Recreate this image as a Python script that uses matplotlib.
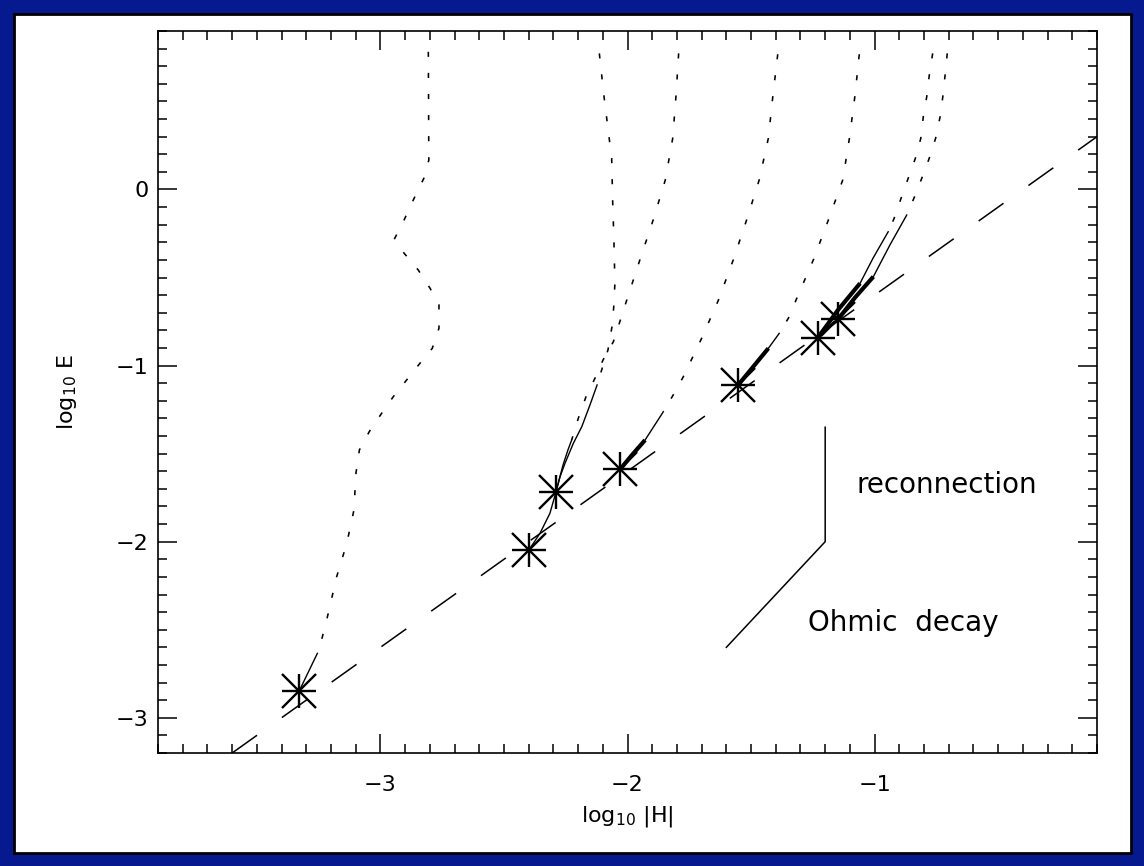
import matplotlib
matplotlib.use("Agg")
import matplotlib.pyplot as plt
from matplotlib.patches import Rectangle
from matplotlib.ticker import MultipleLocator

# star (end) points of each run
star_x = [-3.328, -2.399, -2.289, -2.030, -1.552, -1.230, -1.147]
star_y = [-2.846, -2.047, -1.716, -1.589, -1.110, -0.842, -0.735]

# early part of each run (dotted)
dot_x = [
    [-2.806, -2.804, -2.824, -2.867, -2.904, -2.944, -2.904, -2.847, -2.799, -2.763, -2.763, -2.790,
     -2.840, -2.894, -2.948, -2.995, -3.045, -3.085, -3.099, -3.107, -3.136, -3.177, -3.211, -3.238, -3.255],
    [-2.114, -2.095, -2.064, -2.060, -2.055, -2.051, -2.055, -2.063, -2.079, -2.107, -2.123],
    [-1.793, -1.804, -1.817, -1.847, -1.896, -1.950, -2.003, -2.057, -2.099, -2.131, -2.168, -2.199, -2.226],
    [-1.392, -1.412, -1.430, -1.467, -1.518, -1.572, -1.632, -1.700, -1.774, -1.815, -1.855],
    [-1.062, -1.080, -1.102, -1.129, -1.187, -1.248, -1.315, -1.349, -1.386],
    [-0.765, -0.779, -0.789, -0.803, -0.813, -0.835, -0.864, -0.893, -0.921, -0.945],
    [-0.706, -0.715, -0.724, -0.735, -0.753, -0.779, -0.809, -0.841, -0.870],
]
dot_y = [
    [0.782, 0.167, 0.064, -0.060, -0.173, -0.283, -0.362, -0.457, -0.561, -0.656, -0.788, -0.902,
     -0.987, -1.082, -1.177, -1.271, -1.375, -1.479, -1.612, -1.820, -2.009, -2.199, -2.407, -2.558, -2.634],
    [0.773, 0.527, 0.177, -0.069, -0.287, -0.531, -0.656, -0.781, -0.911, -1.036, -1.110],
    [0.773, 0.527, 0.291, 0.054, -0.173, -0.400, -0.628, -0.864, -0.968, -1.070, -1.177, -1.299, -1.423],
    [0.768, 0.527, 0.291, 0.054, -0.173, -0.400, -0.628, -0.845, -1.063, -1.167, -1.262],
    [0.768, 0.527, 0.291, 0.054, -0.173, -0.400, -0.618, -0.731, -0.817],
    [0.773, 0.646, 0.527, 0.413, 0.291, 0.177, 0.064, -0.050, -0.164, -0.240],
    [0.773, 0.646, 0.527, 0.413, 0.291, 0.177, 0.064, -0.050, -0.145],
]

# later part (thin solid)
thin_x = [
    [-3.255, -3.328],
    [-2.123, -2.152, -2.185, -2.219, -2.253, -2.273, -2.289, -2.314, -2.354, -2.399],
    [-2.226, -2.241, -2.261, -2.277, -2.289],
    [-1.855, -1.929],
    [-1.386, -1.430],
    [-0.945, -1.006, -1.059],
    [-0.870, -0.938, -1.005],
]
thin_y = [
    [-2.634, -2.846],
    [-1.110, -1.224, -1.347, -1.441, -1.555, -1.631, -1.716, -1.839, -1.952, -2.047],
    [-1.423, -1.479, -1.565, -1.650, -1.716],
    [-1.262, -1.423],
    [-0.817, -0.902],
    [-0.240, -0.389, -0.533],
    [-0.145, -0.315, -0.495],
]

# last part (thick solid)
thick_x = [[-1.929, -1.982, -2.030], [-1.430, -1.552], [-1.059, -1.148, -1.230], [-1.005, -1.080, -1.147]]
thick_y = [[-1.423, -1.508, -1.589], [-0.902, -1.110], [-0.533, -0.684, -0.842], [-0.495, -0.615, -0.735]]

# long dashed reference line
ref_x = [-3.6, -0.1]
ref_y = [-3.2, 0.3]

# slope guide
guide_x = [-1.6, -1.2, -1.2]
guide_y = [-2.6, -2.0, -1.35]

plt.rcParams['mathtext.fontset'] = 'dejavusans'

fig = plt.figure(figsize=(11.44, 8.66), dpi=100, facecolor='#06198f')
fig.patches.append(Rectangle((13.5 / 1144, 13.5 / 866), 1 - 27 / 1144, 1 - 27 / 866,
                             transform=fig.transFigure, facecolor='white',
                             edgecolor='black', lw=2.0, zorder=-1))
ax = fig.add_axes([158 / 1144, 113 / 866, 939 / 1144, 722 / 866])
ax.set_facecolor('none')

for xs, ys in zip(dot_x, dot_y):
    ax.plot(xs, ys, color='black', lw=1.15, dashes=(3.2, 10.0))
for xs, ys in zip(thin_x, thin_y):
    ax.plot(xs, ys, color='black', lw=1.0)
for xs, ys in zip(thick_x, thick_y):
    ax.plot(xs, ys, color='black', lw=3.0, solid_capstyle='butt')

ax.plot(ref_x, ref_y, color='black', lw=1.1, dashes=(20, 20))
ax.plot(guide_x, guide_y, color='black', lw=1.1)

ax.plot(star_x, star_y, ls='none', marker='+', ms=24.5, mew=1.7, color='black')
ax.plot(star_x, star_y, ls='none', marker='x', ms=24.5, mew=1.7, color='black')

ax.text(-1.072, -1.725, 'reconnection', fontsize=20, va='baseline')
ax.text(-1.268, -2.505, 'Ohmic  decay', fontsize=20, va='baseline')

ax.set_xlim(-3.9, -0.1)
ax.set_ylim(-3.2, 0.9)
ax.xaxis.set_major_locator(MultipleLocator(1))
ax.xaxis.set_minor_locator(MultipleLocator(0.1))
ax.yaxis.set_major_locator(MultipleLocator(1))
ax.yaxis.set_minor_locator(MultipleLocator(0.1))
ax.tick_params(which='both', direction='in', top=True, right=True, width=1.1, labelsize=16)
ax.tick_params(which='major', length=13.5)
ax.tick_params(which='minor', length=6.5)
ax.tick_params(axis='x', pad=16)
ax.tick_params(axis='y', pad=7)
for s in ax.spines.values():
    s.set_linewidth(1.2)

ax.set_xlabel(r'$\mathrm{log}_{10}$ |H|', fontsize=16, labelpad=6)
ax.set_ylabel(r'$\mathrm{log}_{10}$ E', fontsize=16, labelpad=26)

fig.savefig('out.png', dpi=100, facecolor=fig.get_facecolor())
